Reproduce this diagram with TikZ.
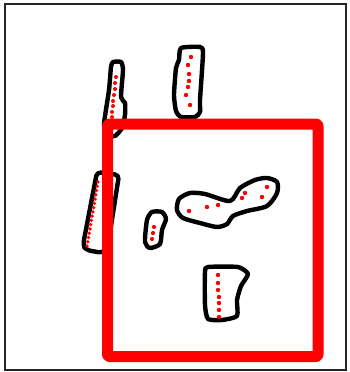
\documentclass[tikz,border=0pt]{standalone}
\usetikzlibrary{calc}
\begin{document}
\begin{tikzpicture}[x=1pt,y=-1pt,
  blob/.style={draw=black,line width=4.4pt,fill=white,line join=round},
  dot/.style={fill=red,draw=none},
  redbox/.style={draw=red,line width=11pt,rounded corners=2pt,line join=round},
  frame/.style={draw=black!85,line width=1.4pt}]
\useasboundingbox (0,0) rectangle (350,372);
\fill[white] (0,0) rectangle (350,372);
\draw[frame] (5,4) rectangle (346,370);
% shape A
\draw[blob] plot[smooth cycle,tension=0.35] coordinates {(113,62)(121,62)(123,70)(121,97)(125,103)(125,115)(122,128)(115,136)(107,134)(104,124)(109,90)(111,67)};
\foreach \p in {(116,77),(115,83),(115,89),(114,95),(113,101),(113,106),(112,112),(112,117)} \fill[dot] \p circle (2pt);
% shape B
\draw[blob] plot[smooth cycle,tension=0.35] coordinates {(181,48)(200,47)(203,53)(200,100)(200,112)(195,117)(181,117)(176,111)(174,95)(176,68)(179,60)};
\foreach \p in {(191,57),(188,65),(189,74),(189,81),(188,87),(186,95),(190,105)} \fill[dot] \p circle (2.2pt);
% shape C
\draw[blob,rounded corners=4pt] (97,172) -- (119,175) -- (108,245) -- (103,253) -- (86,250) -- (83,245) -- cycle;
\foreach \i in {0,...,15} \fill[dot] ($(98,182)!\i/15!(87,246)$) circle (1.9pt);
% shape D
\draw[blob] plot[smooth cycle,tension=0.4] coordinates {(152,212)(162,212)(166,219)(162,230)(160,244)(150,248)(145,242)(147,220)};
\foreach \p in {(154,227),(153,233),(152,239)} \fill[dot] \p circle (2.1pt);
% shape E
\draw[blob] plot[smooth cycle,tension=0.45] coordinates {(190,193)(205,194)(230,201)(240,188)(255,180)(267,178)(277,182)(277,193)(267,206)(247,211)(233,216)(227,224)(217,227)(200,223)(183,218)(177,210)(179,199)};
\foreach \p in {(189,211),(207,207),(218,205),(245,193),(242,198),(267,187),(262,197)} \fill[dot] \p circle (2.2pt);
% shape F
\draw[blob] plot[smooth cycle,tension=0.35] coordinates {(208,267)(238,267)(248,274)(241,286)(237,300)(237,316)(222,320)(208,319)(205,305)(205,272)};
\foreach \p in {(218,275),(218,283),(218,290),(219,297),(219,303),(219,310),(219,317)} \fill[dot] \p circle (2.2pt);
% red box
\draw[redbox] (107.5,124) rectangle (318,356.5);
\end{tikzpicture}
\end{document}
